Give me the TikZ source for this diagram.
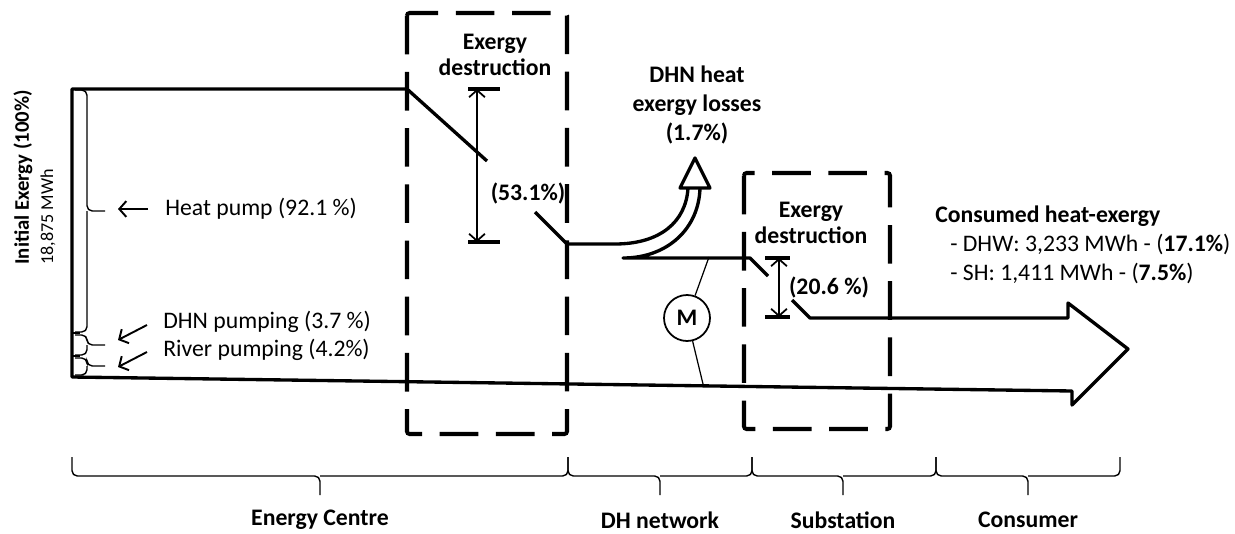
\documentclass[tikz,border=0pt]{standalone}
\usepackage{fontspec}
\setmainfont{Carlito}
\usetikzlibrary{arrows.meta}

\begin{document}
\begin{tikzpicture}[
    x=0.02cm, y=-0.02cm,
    font=\fontsize{13.5}{16}\selectfont,
    >={Straight Barb[length=4pt, width=9pt]},
    flow/.style={draw, line width=1.9pt, line join=round},
    zone/.style={draw, line width=2.3pt, dash pattern=on 22pt off 10pt, rounded corners=1.5pt},
    thinln/.style={draw, line width=0.7pt},
    ptr/.style={->, line width=1.1pt},
    dimarr/.style={<->, line width=1pt},
    tick/.style={draw, line width=1.9pt},
    brace/.style={draw, line width=0.8pt, rounded corners=3pt},
    lbl/.style={font=\fontsize{13.5}{15}\selectfont\bfseries, align=center, inner sep=0pt},
    txt/.style={anchor=west, inner sep=0pt},
    motor/.style={circle, draw, line width=1pt, minimum size=0.92cm, inner sep=0pt, font=\fontsize{13.5}{16}\selectfont\bfseries},
]
\useasboundingbox (0,0) rectangle (1235,534);

% --- Main exergy flow outline (energy centre -> consumer) ---
\draw[flow] (487,161) -- (407,89) -- (72,89) -- (72,377) -- (1072,391) -- (1072,405)
    -- (1128,349) -- (1068,303) -- (1068,318) -- (810,318) -- (792,300);
\draw[flow] (535,212) -- (567,244) -- (615,244) .. controls (660,244) and (686,222) .. (688,188);
\draw[flow] (700,188) .. controls (699,228) and (668,258) .. (623,258) -- (750,258) -- (768,276);
% DHN loss arrow head (hollow)
\draw[flow, fill=white] (680,188) -- (695,158) -- (710,188) -- cycle;

% --- Dashed boundaries: energy centre and substation ---
\draw[zone] (407,13) rectangle (567,434);
\draw[zone] (744,173) rectangle (890,429);

% --- Stacked input bar with braces (left) ---
\draw[thinln] (73,333) -- (80,333);
\draw[thinln] (73,356) -- (80,356);
\draw[brace] (75,90) -| (87,211) -- (105,211);
\draw[brace] (75,332) -| (87,211);
\draw[brace] (75,335) -| (87,345) -- (105,345);
\draw[brace] (75,355) -| (87,345);
\draw[brace] (75,358) -| (87,366) -- (105,366);
\draw[brace] (75,375) -| (87,366);

\node[txt] (hp) at (165,209) {Heat pump (92.1 \%)};
\node[txt] (dhnp) at (163,322) {DHN pumping (3.7 \%)};
\node[txt] (rivp) at (163,350) {River pumping (4.2\%)};
\coordinate (hpa) at (148,209);
\coordinate (hpb) at (118,209);
\coordinate (dpa) at (147,325);
\coordinate (dpb) at (118,340);
\coordinate (rpa) at (147,352);
\coordinate (rpb) at (118,367);
\draw[ptr] (hpa) -- (hpb);
\draw[ptr] (dpa) -- (dpb);
\draw[ptr] (rpa) -- (rpb);

% --- Initial exergy (rotated) ---
\node[rotate=90, anchor=west, inner sep=0pt, font=\fontsize{11.8}{13}\selectfont\bfseries] (init) at (23,265) {Initial Exergy (100\%)};
\node[rotate=90, anchor=west, inner sep=0pt, font=\fontsize{10.3}{13}\selectfont] (initv) at (48,265) {18,875 MWh};

% --- Energy centre destruction (53.1%) ---
\node[lbl, font=\fontsize{13.5}{14.5}\selectfont\bfseries] (ed1) at (495,55) {Exergy\\destruction};
\coordinate (d1t) at (477,89);
\coordinate (d1b) at (477,242);
\draw[tick] (468,89) -- (500,89);
\draw[tick] (468,242) -- (500,242);
\draw[dimarr] (d1t) -- (d1b);
\node[lbl] (ed1v) at (528,193) {(53.1\%)};

% --- DHN losses ---
\node[lbl, font=\fontsize{13.5}{16.5}\selectfont\bfseries] (loss) at (697,105) {DHN heat\\exergy losses\\(1.7\%)};

% --- Substation destruction (20.6 %) ---
\node[lbl, font=\fontsize{13.5}{14.5}\selectfont\bfseries] (ed2) at (811,223) {Exergy\\destruction};
\coordinate (d2t) at (779,258);
\coordinate (d2b) at (779,317);
\draw[tick] (765,258) -- (790,258);
\draw[tick] (765,317) -- (790,317);
\draw[dimarr] (d2t) -- (d2b);
\node[lbl] (ed2v) at (829,287) {(20.6 \%)};

% --- Pump motor ---
\node[motor] (M) at (687,318) {M};
\coordinate (mtop) at (709,257);
\coordinate (mbot) at (703,384);
\draw[thinln] (M) -- (mtop);
\draw[thinln] (M) -- (mbot);

% --- Consumed exergy ---
\node[anchor=north west, align=left, inner sep=0pt, font=\fontsize{13.5}{16.5}\selectfont] (cons) at (935,206)
    {\textbf{Consumed heat-exergy}\\
     \hspace*{8.5pt}- DHW: 3,233 MWh - (\textbf{17.1\%})\\
     \hspace*{8.5pt}- SH: 1,411 MWh - (\textbf{7.5\%})};

% --- System boundaries along the bottom ---
\foreach \a/\b/\m/\lab in {72/568/320/Energy Centre, 568/752/660/DH network, 752/936/843/Substation, 936/1120/1028/Consumer}{
    \draw[brace] (\a,457) |- (\m,476) -- (\m,495);
    \draw[brace] (\b,457) |- (\m,476);
    \node[lbl] (seg\m) at (\m,520) {\lab};
}
\end{tikzpicture}
\end{document}
